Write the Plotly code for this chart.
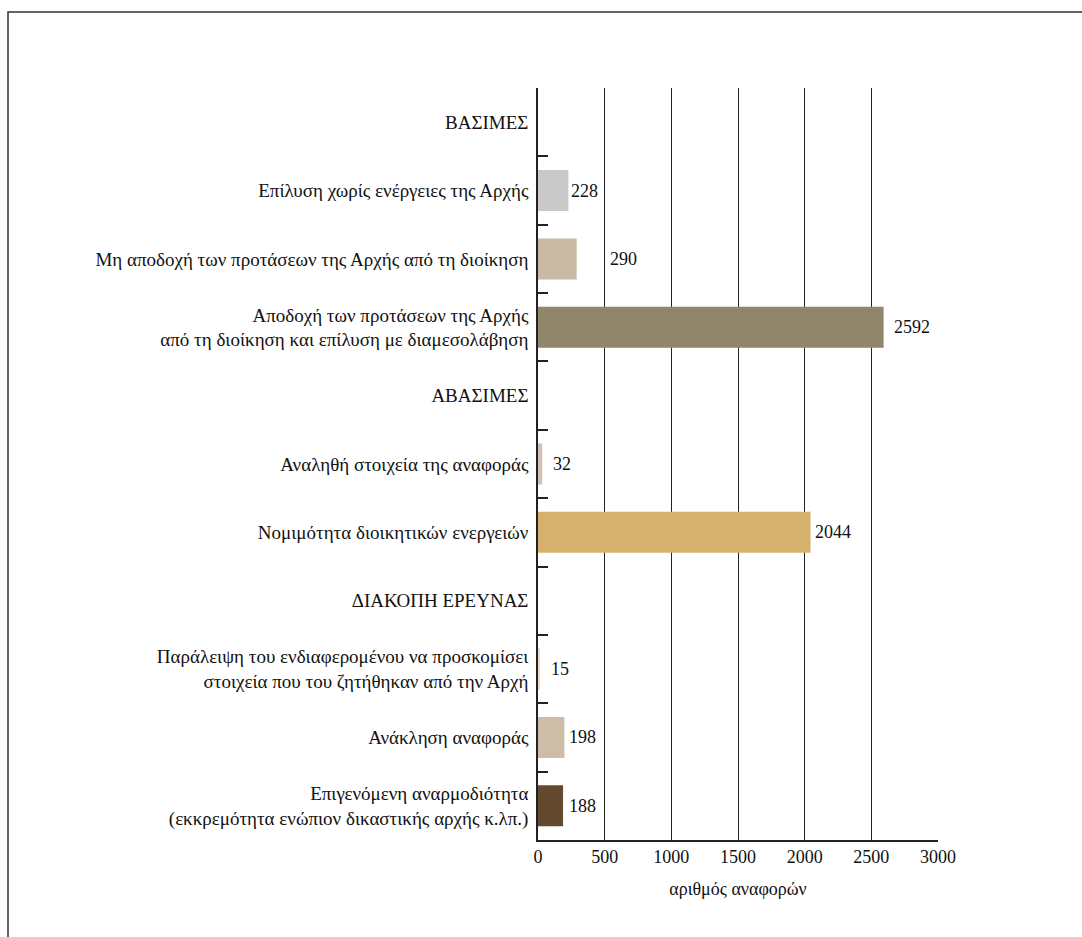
import plotly.graph_objects as go

# Categories, top to bottom (group headers carry no value)
categories = [
    "ΒΑΣΙΜΕΣ",
    "Επίλυση χωρίς ενέργειες της Αρχής",
    "Μη αποδοχή των προτάσεων της Αρχής από τη διοίκηση",
    "Αποδοχή των προτάσεων της Αρχής<br>από τη διοίκηση και επίλυση με διαμεσολάβηση",
    "ΑΒΑΣΙΜΕΣ",
    "Αναληθή στοιχεία της αναφοράς",
    "Νομιμότητα διοικητικών ενεργειών",
    "ΔΙΑΚΟΠΗ ΕΡΕΥΝΑΣ",
    "Παράλειψη του ενδιαφερομένου να προσκομίσει<br>στοιχεία που του ζητήθηκαν από την Αρχή",
    "Ανάκληση αναφοράς",
    "Επιγενόμενη αναρμοδιότητα<br>(εκκρεμότητα ενώπιον δικαστικής αρχής κ.λπ.)",
]
values = [None, 228, 290, 2592, None, 32, 2044, None, 15, 198, 188]
bar_colors = [
    "#ffffff", "#c9c9c9", "#c8baa4", "#8f866c", "#ffffff", "#d3c1b6",
    "#d6b16e", "#ffffff", "#f2dcc3", "#cdbca7", "#634a2f",
]
# horizontal pixel gap between bar end and its value label
label_gap = [0, 1, 31, 8, 0, 9, 2, 0, 9, 3, 4]

x_ticks = [0, 500, 1000, 1500, 2000, 2500, 3000]
x_title = "αριθμός αναφορών"

FONT = "Liberation Serif"

fig = go.Figure(
    go.Bar(
        x=values,
        y=categories,
        orientation="h",
        marker=dict(color=bar_colors, line=dict(width=0)),
        width=0.6,
        hoverinfo="x+y",
    )
)

for cat, val, gap in zip(categories, values, label_gap):
    if val is None:
        continue
    fig.add_annotation(
        x=val, y=cat, text=str(val), showarrow=False,
        xanchor="left", yanchor="middle", xshift=gap,
        font=dict(family=FONT, size=18, color="#111"),
    )

# outer frame around the whole figure
fig.add_shape(
    type="rect", xref="paper", yref="paper",
    x0=-1.325, x1=2.0, y0=-0.5, y1=1.101,
    line=dict(color="#333", width=1.5), fillcolor="rgba(0,0,0,0)",
    layer="below",
)

fig.update_layout(
    width=1082, height=937,
    margin=dict(l=538, r=144, t=88, b=97),
    paper_bgcolor="white", plot_bgcolor="white",
    showlegend=False,
    font=dict(family=FONT, color="#111"),
    xaxis=dict(
        range=[0, 3000], tickvals=x_ticks, ticks="",
        showgrid=True, gridcolor="#222", gridwidth=1.2,
        showline=True, linecolor="#222", linewidth=1.5,
        zeroline=False,
        tickfont=dict(family=FONT, size=18, color="#111"),
        title=dict(text=x_title, font=dict(family=FONT, size=18, color="#111"), standoff=16),
        fixedrange=True,
    ),
    yaxis=dict(
        type="category", categoryorder="array", categoryarray=categories,
        autorange="reversed",
        tickson="boundaries", ticks="inside", ticklen=10, tickcolor="#222", tickwidth=1.5,
        showline=True, linecolor="#222", linewidth=1.5,
        showgrid=False, zeroline=False,
        ticklabelstandoff=4,
        tickfont=dict(family=FONT, size=19, color="#111"),
        fixedrange=True,
    ),
)

fig.write_html("out.html")
